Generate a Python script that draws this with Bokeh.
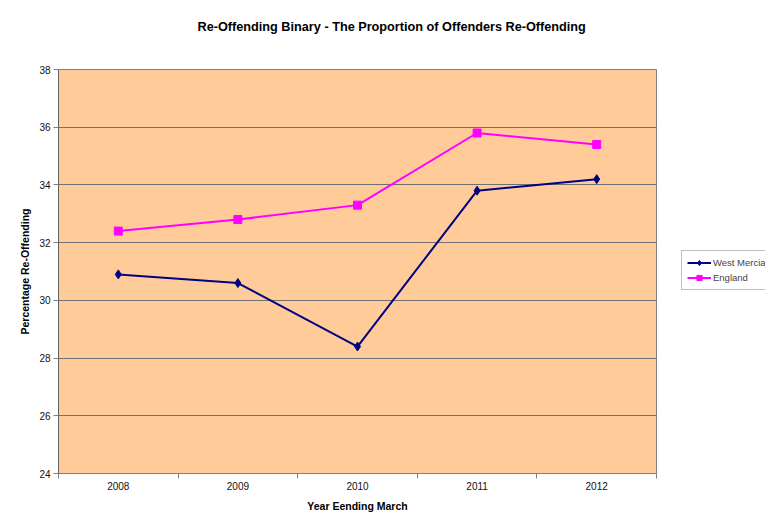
from bokeh.plotting import figure
from bokeh.models import (FixedTicker, Legend, LegendItem, Title, ColumnDataSource)
from bokeh.embed import file_html
from bokeh.resources import INLINE

years = ["2008", "2009", "2010", "2011", "2012"]
west_mercia = [30.9, 30.6, 28.4, 33.8, 34.2]
england = [32.4, 32.8, 33.3, 35.8, 35.4]
y_ticks = [24, 26, 28, 30, 32, 34, 36, 38]

xs = list(range(len(years)))
src = ColumnDataSource(dict(x=xs, wm=west_mercia, en=england))

W, H = 757, 515
FW, FH = 598, 404
p = figure(width=W, height=H, output_backend="svg", toolbar_location=None,
           x_range=(-0.5, len(years) - 0.5), y_range=(y_ticks[0], y_ticks[-1]),
           min_border_left=58, min_border_right=101, min_border_top=69,
           min_border_bottom=42, frame_width=FW, frame_height=FH)
p.background_fill_color = "#FFCC99"
p.border_fill_color = "white"
p.outline_line_color = "#808080"
p.outline_line_width = 1

font = "Liberation Sans"

p.title = Title(text="Re-Offending Binary - The Proportion of Offenders Re-Offending",
                align="left", offset=139, standoff=34,
                text_font=font, text_font_size="12.7px", text_font_style="bold",
                text_color="black")
# spacer between the title and the plot area
p.add_layout(Title(text=" ", standoff=16, text_font_size="1px"), "above")

# x axis
p.xaxis.ticker = FixedTicker(ticks=xs, minor_ticks=[i - 0.5 for i in range(len(years) + 1)])
p.xaxis.major_label_overrides = {i: y for i, y in enumerate(years)}
p.xaxis.major_tick_line_color = None
p.xaxis.minor_tick_line_color = "#808080"
p.xaxis.minor_tick_out = 5
p.xaxis.minor_tick_in = 0
p.xaxis.axis_line_color = "#808080"
p.xaxis.major_label_text_font = font
p.xaxis.major_label_text_font_size = "10px"
p.xaxis.major_label_text_color = "#111111"
p.xaxis.major_label_standoff = 2
p.xaxis.axis_label = "Year Eending March"
p.xaxis.axis_label_text_font = font
p.xaxis.axis_label_text_font_size = "10.5px"
p.xaxis.axis_label_text_font_style = "bold"
p.xaxis.axis_label_text_color = "black"
p.xaxis.axis_label_standoff = 7

# y axis
p.yaxis.ticker = FixedTicker(ticks=y_ticks)
p.yaxis.minor_tick_line_color = None
p.yaxis.major_tick_line_color = "#808080"
p.yaxis.major_tick_out = 5
p.yaxis.major_tick_in = 0
p.yaxis.axis_line_color = "#606060"
p.yaxis.major_label_text_font = font
p.yaxis.major_label_text_font_size = "10px"
p.yaxis.major_label_text_color = "#111111"
p.yaxis.major_label_standoff = 3
p.yaxis.axis_label = "Percentage Re-Offending"
p.yaxis.axis_label_text_font = font
p.yaxis.axis_label_text_font_size = "10.5px"
p.yaxis.axis_label_text_font_style = "bold"
p.yaxis.axis_label_text_color = "black"
p.yaxis.axis_label_standoff = 5

p.xgrid.grid_line_color = None
p.ygrid.grid_line_color = "#707070"
p.ygrid.grid_line_alpha = 1.0
p.ygrid.ticker = FixedTicker(ticks=y_ticks)

wm_line = p.line("x", "wm", source=src, line_color="#000080", line_width=2)
wm_pts = p.scatter("x", "wm", source=src, marker="diamond", size=9,
                   fill_color="#000080", line_color="#000080")
en_line = p.line("x", "en", source=src, line_color="#FF00FF", line_width=2)
en_pts = p.scatter("x", "en", source=src, marker="square", size=8,
                   fill_color="#FF00FF", line_color="#FF00FF")

legend = Legend(items=[LegendItem(label="West Mercia", renderers=[wm_line, wm_pts]),
                       LegendItem(label="England", renderers=[en_line, en_pts])],
                location=(25, 183), orientation="vertical")
legend.label_text_font = font
legend.label_text_font_size = "9.5px"
legend.label_standoff = 2
legend.glyph_width = 24
legend.glyph_height = 13
legend.spacing = 2
legend.padding = 5
legend.margin = 0
legend.border_line_color = "#808080"
legend.background_fill_color = "white"
p.add_layout(legend, "right")

open("out.html", "w").write(file_html(p, INLINE))
